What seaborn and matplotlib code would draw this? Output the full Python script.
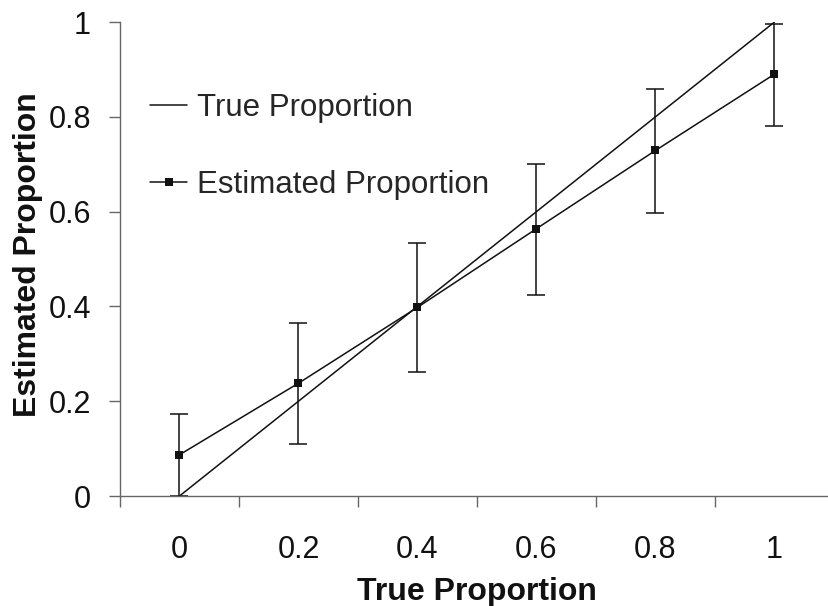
import numpy as np
import pandas as pd
import seaborn as sns
import matplotlib.pyplot as plt
from matplotlib.ticker import FixedLocator

categories = ["0", "0.2", "0.4", "0.6", "0.8", "1"]
true_prop = [0.0, 0.2, 0.4, 0.6, 0.8, 1.0]
est_prop = [0.087, 0.238, 0.398, 0.564, 0.729, 0.890]
err_low = [0.0, 0.110, 0.262, 0.425, 0.598, 0.781]
err_high = [0.174, 0.364, 0.533, 0.700, 0.858, 0.995]

sns.set_theme(style="white")
plt.rcParams['font.family'] = ['Liberation Sans', 'DejaVu Sans']

idx = np.arange(len(categories))
df = pd.DataFrame({'pos': idx, 'true': true_prop, 'est': est_prop})

fig = plt.figure(figsize=(8.29, 6.06), dpi=100)
fig.patch.set_facecolor('white')
ax = fig.add_axes([120 / 829, 110 / 606, 714 / 829, 474 / 606])

sns.lineplot(data=df, x='pos', y='true', color='#111111', linewidth=1.1,
             label='True Proportion', ax=ax)
sns.lineplot(data=df, x='pos', y='est', color='#111111', linewidth=1.1,
             marker='s', markersize=5.5, markeredgewidth=0,
             label='Estimated Proportion', ax=ax)

yerr = [np.array(est_prop) - np.array(err_low), np.array(err_high) - np.array(est_prop)]
ax.errorbar(idx, est_prop, yerr=yerr, fmt='none', ecolor='#111111',
            elinewidth=1.1, capsize=6.5, capthick=1.1)

ax.set_xlim(-0.5, len(categories) - 0.5)
ax.set_ylim(0, 1)

ax.set_xticks(idx)
ax.set_xticklabels(categories)
ax.xaxis.set_minor_locator(FixedLocator(np.arange(-0.5, len(categories), 1.0)))
ax.tick_params(axis='x', which='major', length=0, pad=28, labelsize=22, colors='#111111')
ax.tick_params(axis='x', which='minor', length=8, width=1, color='#666666', direction='out', bottom=True)

ax.set_yticks([0, 0.2, 0.4, 0.6, 0.8, 1.0])
ax.set_yticklabels(["0", "0.2", "0.4", "0.6", "0.8", "1"])
ax.tick_params(axis='y', length=8, width=1, color='#666666', direction='out', pad=13,
               labelsize=22, labelcolor='#111111', left=True)

for s in ['top', 'right']:
    ax.spines[s].set_visible(False)
for s in ['left', 'bottom']:
    ax.spines[s].set_color('#666666')
    ax.spines[s].set_linewidth(1)

ax.set_xlabel('True Proportion', fontsize=23, fontweight='bold', labelpad=9, color='#111111')
ax.set_ylabel('Estimated Proportion', fontsize=23, fontweight='bold', labelpad=4, color='#111111')
ax.yaxis.label.set_y(0.51)

ax.legend(loc='upper left', bbox_to_anchor=(0.042, 0.851), frameon=False, fontsize=22.5,
          handlelength=1.2, handletextpad=0.3, labelspacing=1.5,
          borderpad=0, borderaxespad=0)

fig.savefig('out.png', dpi=100, facecolor='white')
